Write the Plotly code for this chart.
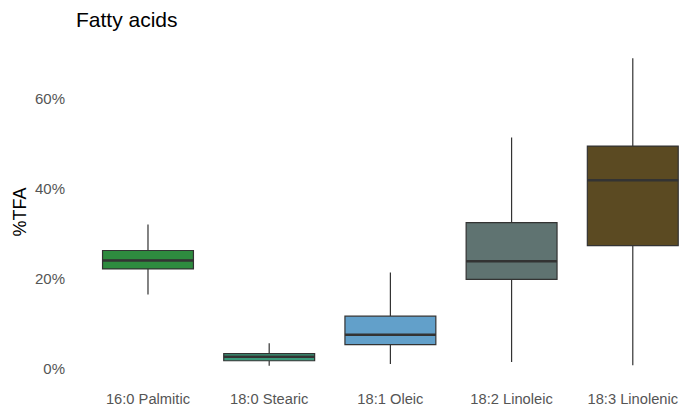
import plotly.graph_objects as go

categories = ["16:0 Palmitic", "18:0 Stearic", "18:1 Oleic", "18:2 Linoleic", "18:3 Linolenic"]
lower_whisker = [16.4, 0.6, 1.0, 1.4, 0.7]
q1 = [22.1, 1.7, 5.3, 19.8, 27.3]
median = [24.0, 2.6, 7.5, 23.8, 41.8]
q3 = [26.2, 3.3, 11.6, 32.4, 49.4]
upper_whisker = [32.0, 5.6, 21.3, 51.3, 68.9]
colors = ["#2E8B3F", "#3A9A7B", "#62A0CA", "#5F7371", "#5B4A22"]
y_ticks = [0, 20, 40, 60]
y_tick_labels = ["0%", "20%", "40%", "60%"]

box_width = 0.75
fig = go.Figure()
for i, cat in enumerate(categories):
    fig.add_trace(go.Box(
        x=[i], q1=[q1[i]], median=[median[i]], q3=[q3[i]],
        lowerfence=[lower_whisker[i]], upperfence=[upper_whisker[i]],
        fillcolor=colors[i], line=dict(color="#333333", width=1.2),
        width=box_width, whiskerwidth=0, name=cat, showlegend=False,
        boxpoints=False, hoverinfo="skip",
    ))
    fig.add_trace(go.Scatter(
        x=[i - box_width / 2, i + box_width / 2], y=[median[i], median[i]],
        mode="lines", line=dict(color="#333333", width=2.5),
        showlegend=False, hoverinfo="skip",
    ))

fig.update_layout(
    width=695, height=409,
    margin=dict(l=72, r=5, t=43, b=28, autoexpand=False),
    plot_bgcolor="white", paper_bgcolor="white",
    font=dict(family="Liberation Sans, Arial, sans-serif"),
    title=dict(text="Fatty acids", x=76 / 695, xanchor="left",
               y=1 - 20 / 409, yanchor="middle", yref="container",
               font=dict(size=21, color="black"), automargin=False),
    xaxis=dict(range=[-0.627, 4.472], tickvals=list(range(len(categories))),
               ticktext=categories, showgrid=False, zeroline=False,
               showline=False, ticks="", tickfont=dict(size=14.7, color="#555555"),
               ticklabelstandoff=7, automargin=False),
    yaxis=dict(range=[-2.8, 72.3], tickvals=y_ticks, ticktext=y_tick_labels,
               showgrid=False, zeroline=False, showline=False, ticks="",
               tickfont=dict(size=15, color="#555555"), ticklabelstandoff=6,
               automargin=False,
               title=dict(text="%TFA", font=dict(size=18, color="black"), standoff=3)),
)
fig.write_html("out.html", config={"displayModeBar": False},
               post_script="document.body.style.margin='0';document.body.style.overflow='hidden';")
